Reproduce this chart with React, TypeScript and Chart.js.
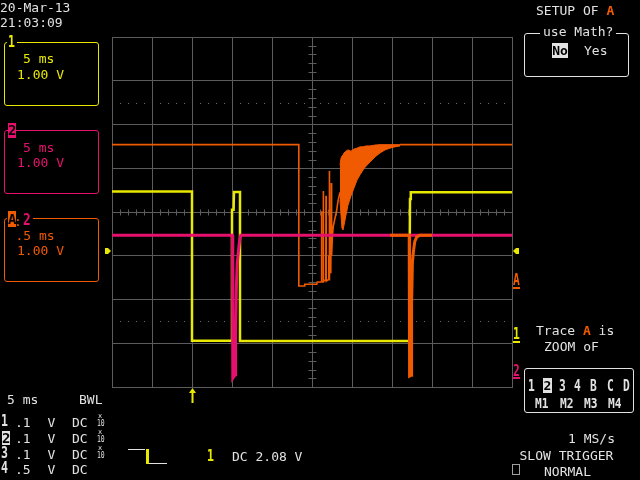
import React, { useEffect, useRef } from "react";
import { Chart, registerables } from "chart.js";

Chart.register(...registerables);

// ---- axes (time in ms, vertical in screen divisions) ----
const timeMin = -10;
const timeMax = 40;
const timeStep = 5; // 5 ms / div
const divMin = 0;
const divMax = 8;
const centerTime = 15;
const centerDiv = 4;
const triggerTime = 0;
const triggerLevelDiv = 3.11;
const groundA = 2.26;
const ground1 = 1.03;
const ground2 = 0.2;

// ---- channel 1 (yellow) ----
const ch1Time = [-10, 0, 0, 5.0, 5.0, 5.2, 5.25, 6.0, 6.0, 27.2, 27.2, 27.25, 27.35, 40];
const ch1Div = [4.47, 4.47, 1.06, 1.06, 4.05, 4.05, 4.46, 4.46, 1.05, 1.05, 2.67, 4.3, 4.45, 4.45];

// ---- channel 2 (magenta) ----
const ch2Time = [-10, 5.05, 5.1, 5.4, 5.45, 5.55, 5.65, 5.8, 5.95, 6.1, 40];
const ch2Div = [3.47, 3.47, 0.2, 0.28, 1.2, 2.3, 2.8, 3.1, 3.35, 3.47, 3.47];

// ---- trace A (orange, zoom of 2) ----
const traceATime = [
  -10, 13.35, 13.35, 14.0, 14.1, 15.6, 15.65, 16.15, 16.19, 16.22, 16.38, 16.41, 16.44,
  16.72, 16.75, 16.78, 17.0, 17.1, 17.13, 17.16, 17.2, 17.3, 17.35, 17.41, 17.45, 17.55,
  17.65, 17.85, 18.05, 18.25, 18.5, 18.6, 26.0, 40,
];
const traceADiv: (number | null)[] = [
  5.54, 5.54, 2.31, 2.31, 2.35, 2.35, 2.4, 2.4, 4.02, 2.4, 2.4, 4.48, 2.42,
  2.45, 4.37, 2.42, 2.45, 3.0, 2.45, 4.94, 2.5, 3.3, 2.6, 4.66, 3.0, 3.45,
  3.66, 3.84, 4.0, 4.25, 4.45, null, 5.54, 5.54,
];
// ringing envelope of trace A
const bandTime = [18.5, 18.625, 18.75, 18.875, 19.0, 19.25, 19.5, 19.875, 20.25, 20.625, 21.0, 21.375, 21.75, 22.25, 22.875, 23.5, 24.125, 24.75, 25.375, 26.0];
const bandUpper = [5.07, 5.23, 5.28, 5.3, 5.35, 5.39, 5.42, 5.39, 5.44, 5.46, 5.49, 5.49, 5.51, 5.51, 5.53, 5.54, 5.54, 5.54, 5.54, 5.54];
const bandLower = [4.27, 3.93, 3.63, 3.59, 3.7, 3.93, 4.16, 4.37, 4.55, 4.73, 4.85, 4.96, 5.05, 5.14, 5.26, 5.35, 5.42, 5.46, 5.49, 5.51];
// second orange segment
const segATime = [24.75, 27.15, 27.2, 27.4, 27.45, 27.55, 27.7, 27.85, 28.1, 28.5, 30];
const segADiv = [3.47, 3.47, 0.25, 0.27, 1.9, 2.85, 3.13, 3.33, 3.43, 3.47, 3.47];

const YEL = "#e8e800";
const MAG = "#e8106e";
const ORG = "#f05a00";
const WHT = "#e2e2e2";
const GRID = "#5c5c5c";
const MONO = '"DejaVu Sans Mono", monospace';

const pts = (xs: number[], ys: (number | null)[]) => xs.map((x, i) => ({ x, y: ys[i] }));

const line = (data: any[], color: string, width: number, order: number, extra: any = {}) => ({
  data,
  borderColor: color,
  backgroundColor: color,
  borderWidth: width,
  showLine: true,
  pointRadius: 0,
  pointHoverRadius: 0,
  tension: 0,
  fill: false,
  spanGaps: false,
  order,
  ...extra,
});

const scopePlugin = {
  id: "scopeExtras",
  beforeDatasetsDraw(chart: any) {
    const { ctx, chartArea: a, scales } = chart;
    const x = scales.x;
    const y = scales.y;
    ctx.save();
    ctx.strokeStyle = GRID;
    ctx.lineWidth = 1;
    const cx = Math.round(x.getPixelForValue(centerTime)) + 0.5;
    const cy = Math.round(y.getPixelForValue(centerDiv)) + 0.5;
    ctx.beginPath();
    for (let t = timeMin + 1; t < timeMax; t += 1) {
      if (t % timeStep === 0) continue;
      const px = Math.round(x.getPixelForValue(t)) + 0.5;
      ctx.moveTo(px, cy - 3);
      ctx.lineTo(px, cy + 3);
    }
    for (let k = 1; k < 40; k++) {
      if (k % 5 === 0) continue;
      const py = Math.round(y.getPixelForValue(divMin + k * 0.2)) + 0.5;
      ctx.moveTo(cx - 4, py);
      ctx.lineTo(cx + 4, py);
    }
    ctx.stroke();
    ctx.fillStyle = "#6a6a6a";
    for (const d of [1.5, 6.5]) {
      const py = Math.round(y.getPixelForValue(d));
      for (let t = timeMin + 1; t < timeMax; t += 1) {
        if (t % timeStep === 0) continue;
        const px = Math.round(x.getPixelForValue(t));
        ctx.fillRect(px, py, 1, 1);
      }
    }
    ctx.restore();
  },
  afterDraw(chart: any) {
    const { ctx, chartArea: a, scales } = chart;
    const x = scales.x;
    const y = scales.y;
    ctx.save();
    // trigger time arrow
    const tx = Math.round(x.getPixelForValue(triggerTime));
    ctx.fillStyle = YEL;
    ctx.fillRect(tx - 0.5, a.bottom + 3, 2, 13);
    ctx.beginPath();
    ctx.moveTo(tx + 0.5, a.bottom + 1);
    ctx.lineTo(tx - 3, a.bottom + 6);
    ctx.lineTo(tx + 4, a.bottom + 6);
    ctx.closePath();
    ctx.fill();
    // trigger level flags
    const ty = y.getPixelForValue(triggerLevelDiv);
    ctx.beginPath();
    ctx.moveTo(a.left - 7, ty - 3);
    ctx.lineTo(a.left - 4, ty - 3);
    ctx.lineTo(a.left - 1, ty);
    ctx.lineTo(a.left - 4, ty + 3);
    ctx.lineTo(a.left - 7, ty + 3);
    ctx.closePath();
    ctx.fill();
    ctx.beginPath();
    ctx.moveTo(a.right + 1, ty);
    ctx.lineTo(a.right + 4, ty - 3);
    ctx.lineTo(a.right + 7, ty - 3);
    ctx.lineTo(a.right + 7, ty + 3);
    ctx.lineTo(a.right + 4, ty + 3);
    ctx.closePath();
    ctx.fill();
    // ground markers
    const gm: [number, string][] = [[groundA, ORG], [ground1, YEL], [ground2, MAG]];
    for (const [d, c] of gm) {
      ctx.fillStyle = c;
      ctx.fillRect(a.right + 1, Math.round(y.getPixelForValue(d)) - 1, 7, 2);
    }
    ctx.restore();
  },
};

function Txt(props: any) {
  const { x, b, c = WHT, s = 13, bold = false, sx = 1, bg, pad = 0, children } = props;
  const top = b - s * 0.846;
  return (
    <div
      style={{
        position: "absolute",
        left: x,
        top,
        fontFamily: MONO,
        fontSize: s,
        lineHeight: `${s}px`,
        height: s,
        color: c,
        fontWeight: bold ? "bold" : "normal",
        whiteSpace: "pre",
        transform: sx !== 1 ? `scaleX(${sx})` : undefined,
        transformOrigin: "left top",
        background: bg,
        paddingLeft: pad,
        paddingRight: pad,
      }}
    >
      {children}
    </div>
  );
}

function Box(props: any) {
  const { x, y, w, h, c, r = 3 } = props;
  return (
    <div
      style={{
        position: "absolute",
        left: x,
        top: y,
        width: w - 2,
        height: h - 2,
        border: `1px solid ${c}`,
        borderRadius: r,
      }}
    />
  );
}

function Inv(props: any) {
  const { x, y, w, h, bg, s = 14, children } = props;
  return (
    <div
      style={{
        position: "absolute",
        left: x,
        top: y,
        width: w,
        height: h,
        background: bg,
        color: "#000",
        fontFamily: MONO,
        fontWeight: "bold",
        fontSize: s,
        lineHeight: `${h}px`,
        textAlign: "center",
        overflow: "hidden",
        whiteSpace: "pre",
      }}
    >
      {children}
    </div>
  );
}

function Rect(props: any) {
  const { x, y, w, h, c } = props;
  return <div style={{ position: "absolute", left: x, top: y, width: w, height: h, background: c }} />;
}

const rowDigits = ["1", "2", "3", "4"];
const rowScales = [".1", ".1", ".1", ".5"];
const rowCoupling = ["DC", "DC", "DC", "DC"];
const rowProbe = [true, true, true, false];
const rowBaselines = [427, 442.5, 458.5, 474];

export default function App() {
  const ref = useRef<HTMLCanvasElement>(null);

  useEffect(() => {
    const chart = new Chart(ref.current as HTMLCanvasElement, {
      type: "scatter",
      data: {
        datasets: [
          line(pts(segATime, segADiv), ORG, 3, 0),
          line(pts(ch2Time, ch2Div), MAG, 3, 1),
          line(pts(ch1Time, ch1Div), YEL, 2.5, 2),
          line(pts(traceATime, traceADiv), ORG, 1.6, 3),
          line(pts(bandTime, bandUpper), ORG, 1, 4),
          line(pts(bandTime, bandLower), ORG, 1, 5, { fill: "-1" }),
        ] as any,
      },
      options: {
        animation: false,
        responsive: false,
        maintainAspectRatio: false,
        devicePixelRatio: 1,
        events: [],
        layout: { padding: { left: 112, right: 128, top: 37, bottom: 93 } },
        plugins: { legend: { display: false }, tooltip: { enabled: false } },
        scales: {
          x: {
            type: "linear",
            min: timeMin,
            max: timeMax,
            ticks: { display: false, stepSize: timeStep },
            grid: { color: GRID, lineWidth: 1, drawTicks: false },
            border: { display: true, color: GRID },
          },
          y: {
            type: "linear",
            min: divMin,
            max: divMax,
            ticks: { display: false, stepSize: 1 },
            grid: { color: GRID, lineWidth: 1, drawTicks: false },
            border: { display: true, color: GRID },
          },
        },
      } as any,
      plugins: [scopePlugin],
    });
    return () => chart.destroy();
  }, []);

  return (
    <div
      style={{
        position: "fixed",
        left: 0,
        top: 0,
        width: 640,
        height: 480,
        background: "#000",
        overflow: "hidden",
      }}
    >
      <canvas ref={ref} width={640} height={480} style={{ position: "absolute", left: 0, top: 0, width: 640, height: 480 }} />

      {/* date / time */}
      <Txt x={0} b={12}>20-Mar-13</Txt>
      <Txt x={0} b={27}>21:03:09</Txt>

      {/* channel 1 box */}
      <Box x={4} y={42} w={95} h={64} c={YEL} />
      <Rect x={7} y={35} w={10} h={14} c="#000" />
      <Txt x={8} b={48} c={YEL} bold s={16} sx={0.72}>1</Txt>
      <Txt x={23} b={63} c={YEL}>5 ms</Txt>
      <Txt x={17} b={79} c={YEL}>1.00 V</Txt>

      {/* channel 2 box */}
      <Box x={4} y={130} w={95} h={64} c={MAG} />
      <Inv x={8} y={123} w={8} h={15} bg={MAG}>2</Inv>
      <Txt x={23} b={152} c={MAG}>5 ms</Txt>
      <Txt x={17} b={167} c={MAG}>1.00 V</Txt>

      {/* trace A box */}
      <Box x={4} y={218} w={95} h={64} c={ORG} />
      <Rect x={7} y={210} w={26} h={17} c="#000" />
      <Inv x={8} y={211} w={8} h={16} bg={ORG}>A</Inv>
      <Txt x={14} b={226} c={ORG}>:</Txt>
      <Txt x={23} b={226} c={MAG} bold s={15} sx={0.85}>2</Txt>
      <Txt x={15.5} b={240} c={ORG}>.5 ms</Txt>
      <Txt x={17} b={255} c={ORG}>1.00 V</Txt>

      {/* right side: setup */}
      <Txt x={536} b={15}>
        SETUP OF <span style={{ color: ORG, fontWeight: "bold" }}>A</span>
      </Txt>
      <Box x={524} y={33} w={105} h={44} c={WHT} />
      <Txt x={540} b={36} bg="#000" pad={3}>use Math?</Txt>
      <Inv x={552} y={43} w={16} h={15} bg={WHT} s={13}>No</Inv>
      <Txt x={584} b={55}>Yes</Txt>

      {/* right markers */}
      <Txt x={513} b={286} c={ORG} bold s={15} sx={0.75}>A</Txt>
      <Txt x={513} b={340} c={YEL} bold s={15} sx={0.75}>1</Txt>
      <Txt x={513} b={377} c={MAG} bold s={15} sx={0.75}>2</Txt>

      {/* trace A source */}
      <Txt x={536} b={335}>
        Trace <span style={{ color: ORG, fontWeight: "bold" }}>A</span> is
      </Txt>
      <Txt x={544} b={351}>ZOOM oF</Txt>
      <Box x={524} y={368} w={110} h={45} c={WHT} />
      <Txt x={528} b={392} bold s={15} sx={0.75}>1</Txt>
      <Inv x={543} y={378} w={9} h={15} bg={WHT} s={13}>2</Inv>
      <Txt x={559} b={392} bold s={15} sx={0.75}>3</Txt>
      <Txt x={574} b={392} bold s={15} sx={0.75}>4</Txt>
      <Txt x={590} b={392} bold s={15} sx={0.75}>B</Txt>
      <Txt x={607} b={392} bold s={15} sx={0.75}>C</Txt>
      <Txt x={623} b={392} bold s={15} sx={0.75}>D</Txt>
      <Txt x={535} b={408} bold s={14} sx={0.8}>M1</Txt>
      <Txt x={560} b={408} bold s={14} sx={0.8}>M2</Txt>
      <Txt x={584} b={408} bold s={14} sx={0.8}>M3</Txt>
      <Txt x={608} b={408} bold s={14} sx={0.8}>M4</Txt>

      {/* acquisition */}
      <Txt x={568} b={443}>1 MS/s</Txt>
      <Txt x={519.5} b={460}>SLOW TRIGGER</Txt>
      <Txt x={544} b={476}>NORMAL</Txt>
      <Box x={512} y={464} w={8} h={11} c="#a0a0a0" r={0} />

      {/* bottom-left channel summary */}
      <Txt x={7} b={404}>5 ms</Txt>
      <Txt x={79} b={404}>BWL</Txt>
      {rowDigits.map((d, i) => (
        <React.Fragment key={d}>
          {i === 1 ? (
            <Inv x={2} y={rowBaselines[i] - 12} w={8} h={14} bg={WHT}>{d}</Inv>
          ) : (
            <Txt x={1} b={rowBaselines[i]} bold s={16} sx={0.72}>{d}</Txt>
          )}
          <Txt x={15} b={rowBaselines[i]}>{rowScales[i]}</Txt>
          <Txt x={47.5} b={rowBaselines[i]}>V</Txt>
          <Txt x={72} b={rowBaselines[i]}>{rowCoupling[i]}</Txt>
          {rowProbe[i] && (
            <>
              <Txt x={98} b={rowBaselines[i] - 8} s={7}>x</Txt>
              <Txt x={96.5} b={rowBaselines[i]} s={8} sx={0.8}>10</Txt>
            </>
          )}
        </React.Fragment>
      ))}

      {/* trigger slope icon and level */}
      <Rect x={128} y={449} w={17} h={1} c={WHT} />
      <Rect x={146} y={449} w={3} h={15} c={YEL} />
      <Rect x={149} y={463} w={18} h={1} c={WHT} />
      <Txt x={207} b={462} c={YEL} bold s={16} sx={0.72}>1</Txt>
      <Txt x={232} b={461}>DC 2.08 V</Txt>
    </div>
  );
}
